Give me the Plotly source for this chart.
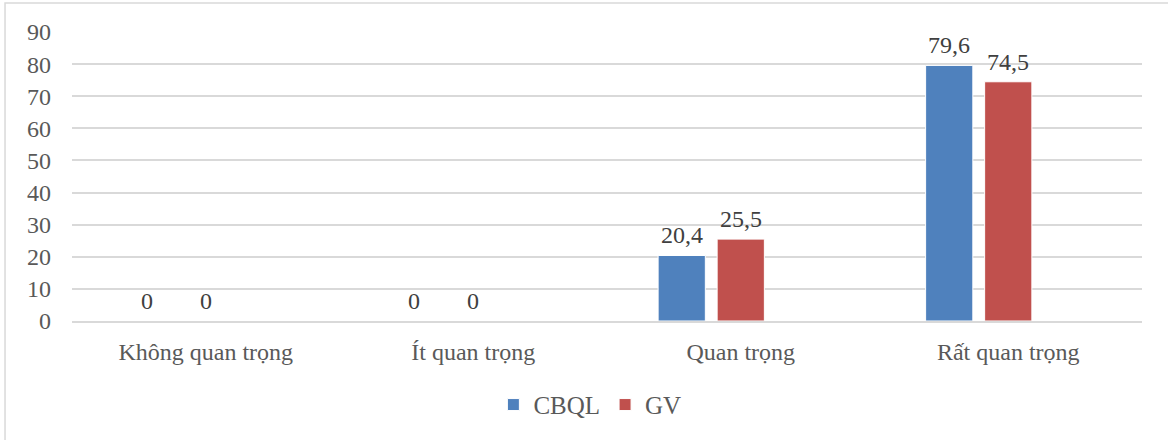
import plotly.graph_objects as go

BLUE = "#4F81BD"
RED = "#C0504D"
GRID = "#D9D9D9"
TEXT = "#595959"
SERIF = "Liberation Serif, Times New Roman, serif"

categories = ["Không quan trọng", "Ít quan trọng", "Quan trọng", "Rất quan trọng"]
cbql = [0, 0, 20.4, 79.6]
gv = [0, 0, 25.5, 74.5]
spare = [None, None, None, None]  # empty third series, keeps Excel-like slot spacing
y_ticks = [0, 10, 20, 30, 40, 50, 60, 70, 80, 90]

W, H = 1168, 440
MARGIN = dict(l=72, r=26, t=32, b=119)
BARGAP, GROUPGAP = 0.338, 0.2

# width of one bar slot in px, used to place value labels over each bar
cat_px = (W - MARGIN["l"] - MARGIN["r"]) / len(categories)
slot_px = cat_px * (1 - BARGAP) / 3

fig = go.Figure()

for i, (name, vals, color) in enumerate([("CBQL", cbql, BLUE), ("GV", gv, RED)]):
    fig.add_trace(go.Bar(
        x=categories, y=vals, name=name,
        marker=dict(color=color, line=dict(color="white", width=1)),
    ))
    for cat, v in zip(categories, vals):
        fig.add_annotation(
            x=cat, y=v, text=f"{v:g}".replace(".", ","), showarrow=False,
            xanchor="center", yanchor="bottom", yshift=5,
            xshift=(i - 1) * slot_px,
            font=dict(family=SERIF, size=24, color="#404040"),
        )

fig.add_trace(go.Bar(
    x=categories, y=spare, showlegend=False, hoverinfo="skip",
    marker=dict(color="rgba(0,0,0,0)", line=dict(width=0)),
))

fig.add_shape(type="rect", xref="paper", yref="paper",
              x0=-0.0626, x1=1.03, y0=-0.6, y1=1.1003,
              line=dict(color=GRID, width=1.5), layer="below")

fig.update_layout(
    width=W, height=H,
    plot_bgcolor="white", paper_bgcolor="white",
    font=dict(family=SERIF, size=24, color=TEXT),
    margin=MARGIN,
    barmode="group", bargap=BARGAP, bargroupgap=GROUPGAP,
    legend=dict(orientation="h", x=0.484, xanchor="center", y=-0.29, yanchor="middle",
                font=dict(family=SERIF, size=25, color=TEXT), itemwidth=30,
                traceorder="normal"),
    xaxis=dict(showgrid=False, showline=True, linecolor=GRID, linewidth=1.5,
               ticks="", ticklabelstandoff=8,
               tickfont=dict(family=SERIF, size=24, color=TEXT)),
    yaxis=dict(range=[0, 90], tickvals=y_ticks, showgrid=True, gridcolor=GRID,
               gridwidth=1.5, zeroline=False, showline=False,
               ticklabelstandoff=20,
               tickfont=dict(family=SERIF, size=24, color=TEXT)),
)

fig.write_html("out.html", config={"displayModeBar": False},
               post_script="document.body.style.margin='0';")
